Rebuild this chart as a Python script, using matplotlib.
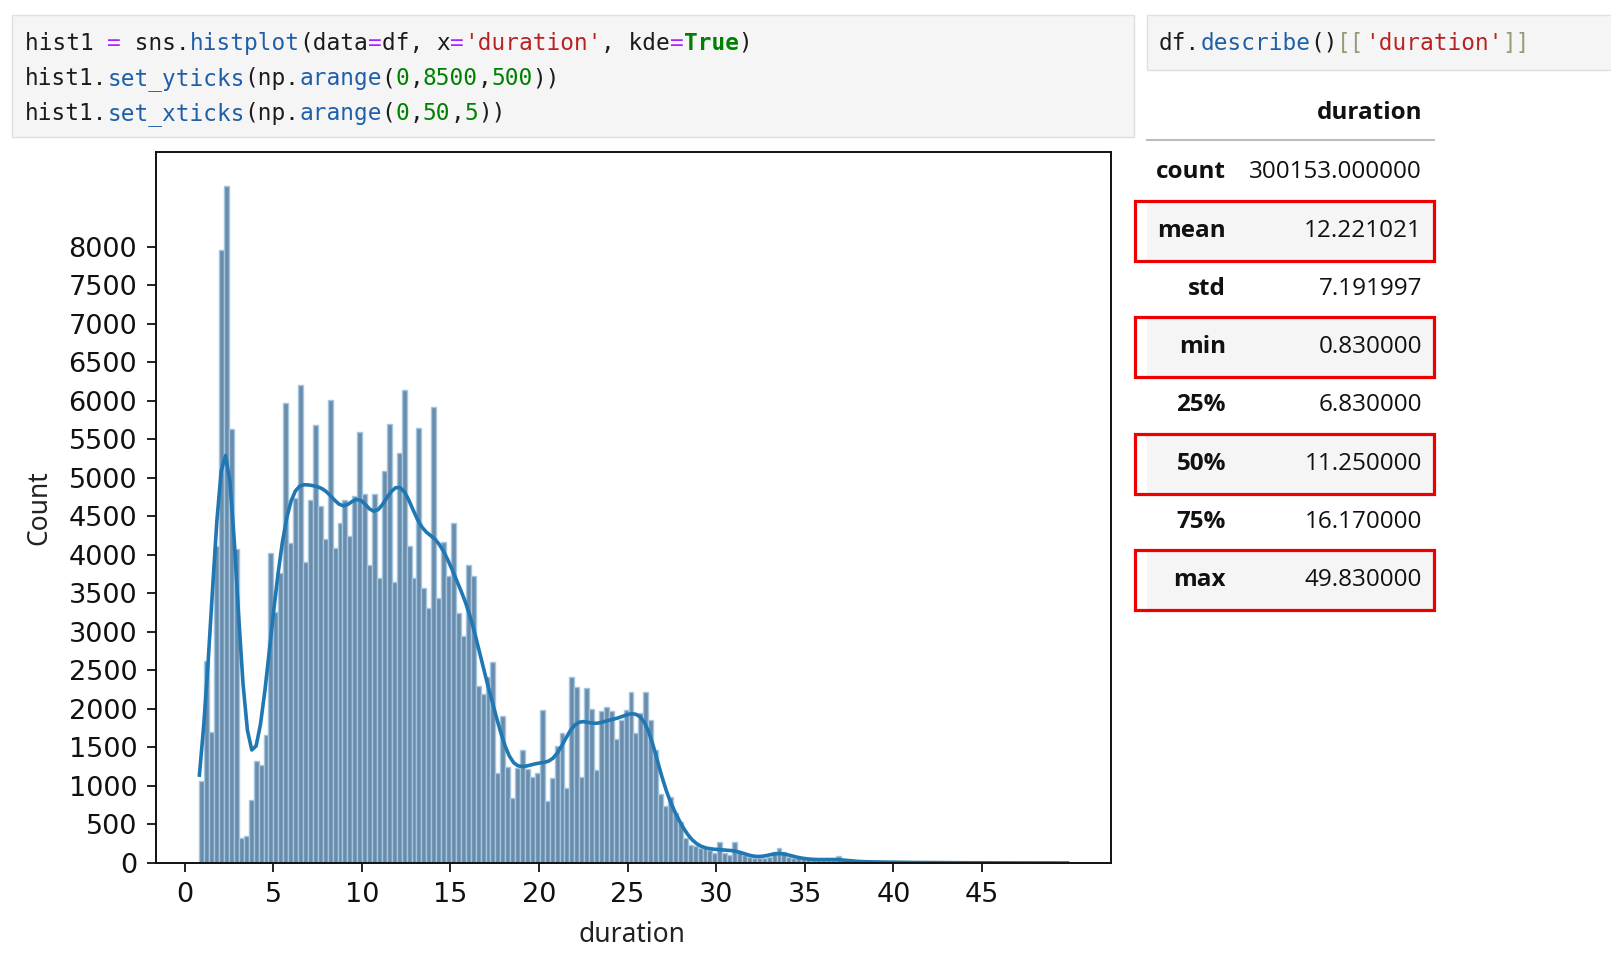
import numpy as np
import matplotlib.pyplot as plt
from matplotlib.patches import Rectangle

# df.describe()[['duration']] output
stat_names = ["count", "mean", "std", "min", "25%", "50%", "75%", "max"]
stat_values = [300153.0, 12.221021, 7.191997, 0.83, 6.83, 11.25, 16.17, 49.83]
boxed_stats = ["mean", "min", "50%", "max"]

# histogram bar heights (176 bins between min and max)
counts = [
    1070, 2620, 1700, 4110, 7960, 8790, 5640, 4070, 330, 345,
    820, 1320, 1270, 1665, 4030, 3260, 3760, 5970, 4150, 4740,
    6210, 3910, 4710, 5690, 4630, 4200, 6010, 4090, 4420, 4710,
    4240, 4770, 5590, 4790, 3870, 4790, 3700, 5090, 5700, 3650,
    5320, 6140, 4120, 3700, 5650, 3570, 3310, 5920, 3440, 4170,
    3730, 4420, 3240, 2950, 3870, 3720, 2300, 2200, 2420, 2615,
    1165, 1910, 1240, 840, 1230, 1470, 1215, 1120, 1165, 1990,
    800, 1100, 1520, 1690, 970, 2420, 2290, 1117, 2270, 2000,
    1208, 1970, 2030, 1970, 1610, 1850, 1990, 2220, 1690, 1950,
    2220, 1850, 1470, 900, 740, 860, 650, 530, 330, 235,
    220, 200, 190, 170, 125, 268, 125, 104, 268, 147,
    104, 82, 60, 60, 60, 82, 147, 199, 147, 82,
    69, 60, 52, 52, 40, 40, 40, 40, 38, 95,
    25, 22, 20, 18, 16, 15, 14, 13, 12, 11,
    10, 9, 8, 8, 7, 7, 6, 6, 5, 5,
    5, 4, 4, 4, 3, 3, 3, 3, 2, 2,
    2, 2, 2, 2, 1, 1, 1, 1, 1, 1,
    1, 1, 1, 1, 1, 1,
]

y_ticks = np.arange(0, 8500, 500)
x_ticks = np.arange(0, 50, 5)

code_left = [
    [("hist1 ", "k"), ("=", "op"), (" sns.", "k"), ("histplot", "prop"), ("(data", "k"),
     ("=", "op"), ("df, x", "k"), ("=", "op"), ("'duration'", "str"), (", kde", "k"),
     ("=", "op"), ("True", "kw"), (")", "k")],
    [("hist1.", "k"), ("set_yticks", "prop"), ("(np.", "k"), ("arange", "prop"), ("(", "k"),
     ("0", "num"), (",", "k"), ("8500", "num"), (",", "k"), ("500", "num"), ("))", "k")],
    [("hist1.", "k"), ("set_xticks", "prop"), ("(np.", "k"), ("arange", "prop"), ("(", "k"),
     ("0", "num"), (",", "k"), ("50", "num"), (",", "k"), ("5", "num"), ("))", "k")],
]
code_right = [("df.", "k"), ("describe", "prop"), ("()", "k"), ("[[", "br"),
              ("'duration'", "str"), ("]]", "br")]

colors = {"k": "#1b1b1b", "op": "#aa22ff", "prop": "#1f5fa8", "str": "#ba2121",
          "num": "#008000", "kw": "#008000", "br": "#999977"}

W, H = 1611, 960
fig = plt.figure(figsize=(W / 100, H / 100), dpi=100)

# page layer in pixel coordinates
page = fig.add_axes([0, 0, 1, 1])
page.set_xlim(0, W)
page.set_ylim(H, 0)
page.axis("off")

CW = 13.72
CODE_FS = CW / 0.60205 * 0.72


def code_line(x0, y, tokens):
    col = 0
    for txt, kind in tokens:
        page.text(x0 + col * CW, y, txt, color=colors[kind], family="DejaVu Sans Mono",
                  fontsize=CODE_FS, fontweight="bold" if kind == "kw" else "normal",
                  ha="left", va="baseline")
        col += len(txt)


# code cells
page.add_patch(Rectangle((12, 15), 1122, 122, facecolor="#f5f5f5", edgecolor="#e0e0e0", lw=1))
page.add_patch(Rectangle((1147, 15), 470, 55, facecolor="#f5f5f5", edgecolor="#e0e0e0", lw=1))
for i, line in enumerate(code_left):
    code_line(25, 50 + i * 35, line)
code_line(1159, 50, code_right)

# describe table
tfont = dict(family=["Open Sans", "DejaVu Sans"], fontsize=17.5, color="#111111")
page.text(1422, 113, "duration", ha="right", va="center", fontweight="bold", **tfont)
page.plot([1147, 1434], [140, 140], color="#bdbdbd", lw=1.5)
row_y0, row_step = 172.5, 58.2
for i, (name, val) in enumerate(zip(stat_names, stat_values)):
    y = row_y0 + i * row_step
    if i % 2 == 1:
        page.add_patch(Rectangle((1147, y - 29), 287, 58, facecolor="#f5f5f5", edgecolor="none"))
    if name in boxed_stats:
        page.add_patch(Rectangle((1135, y - 30), 299, 60, facecolor="none",
                                 edgecolor="#ee0000", lw=2.3, zorder=5))
    page.text(1226, y, name, ha="right", va="center", fontweight="bold", **tfont)
    page.text(1422, y, f"{val:.6f}", ha="right", va="center", **tfont)

# histogram
edges = np.linspace(stat_values[3], stat_values[7], len(counts) + 1)
binw = edges[1] - edges[0]
centers = (edges[:-1] + edges[1:]) / 2
w = np.array(counts, dtype=float)

# gaussian kde (scott bandwidth), scaled to counts, drawn between min and max
bw = stat_values[2] * stat_values[0] ** (-1 / 5)
grid = np.linspace(edges[0], edges[-1], 200)
dens = (w[None, :] * np.exp(-0.5 * ((grid[:, None] - centers[None, :]) / bw) ** 2)).sum(axis=1)
kde = dens / (np.sqrt(2 * np.pi) * bw) * binw

ax = fig.add_axes([156 / W, 1 - 863 / H, 955 / W, 711 / H])
ax.bar(edges[:-1], counts, width=binw, align="edge", facecolor="#6a8cab",
       edgecolor="#a3c6e0", linewidth=1.0)
ax.plot(grid, kde, color="#1f77b4", lw=2.6)

ax.set_yticks(y_ticks)
ax.set_xticks(x_ticks)
ax.tick_params(length=6.5, width=1.3, labelsize=19.5, pad=7, colors="#111111")
for s in ax.spines.values():
    s.set_linewidth(1.4)
    s.set_color("#111111")
ax.set_ylabel("Count", family="Noto Sans", fontsize=19, color="#222222")
ax.set_xlabel("duration", family="Noto Sans", fontsize=19, color="#222222")
ax.yaxis.set_label_coords(-0.107, 0.5)
ax.xaxis.set_label_coords(0.498, -0.082)

fig.savefig("out.png", dpi=100)
